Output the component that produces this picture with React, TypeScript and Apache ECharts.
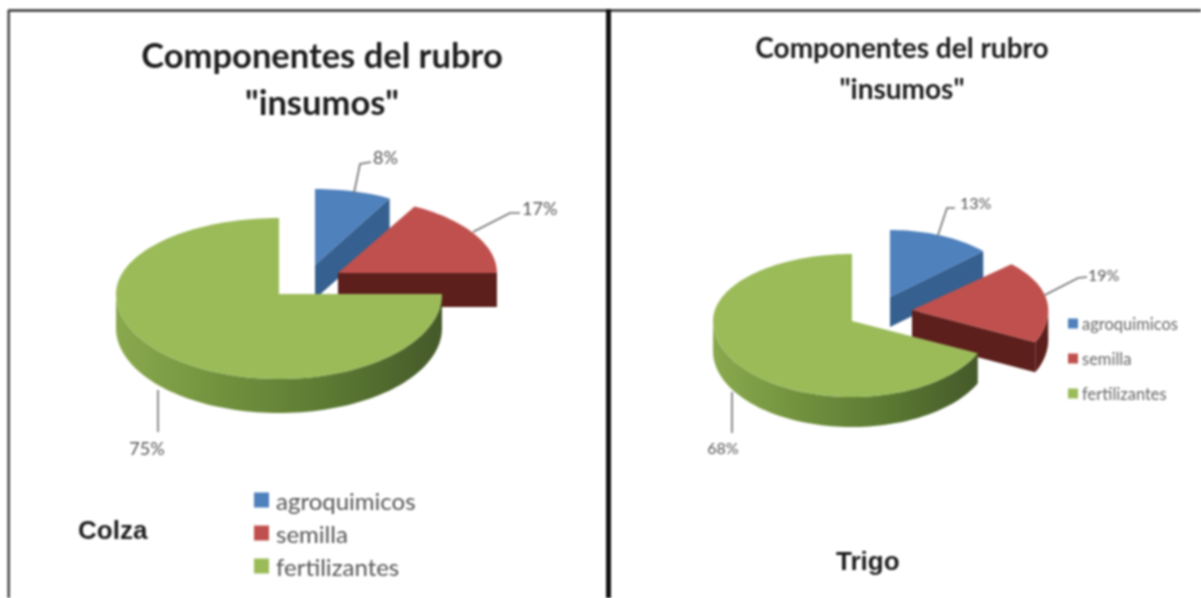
import React, { useEffect, useRef } from "react";
import * as echarts from "echarts";

const categories = ["agroquimicos", "semilla", "fertilizantes"];
const colzaValues = [8, 17, 75];
const trigoValues = [13, 19, 68];
const titleText = 'Componentes del rubro\n"insumos"';
const cropNames = ["Colza", "Trigo"];

const topColors = ["#4f81bd", "#c0504d", "#9bbb59"];
const sideColors = ["#35608f", "#5c1f1c", "#6f8f3e"];

type Panel = {
  cx: number; cy: number; rx: number; ryTop: number; ryBot: number; depth: number;
  offsets: number[][]; rxScale: number[]; leaders: number[][][]; labelPos: number[][];
  labelAlign: string[]; fontSize: number;
};

const colzaPanel: Panel = {
  cx: 279, cy: 294, rx: 163, ryTop: 76, ryBot: 85, depth: 34,
  offsets: [[36, -29], [59, -21], [0, 0]],
  rxScale: [0.95, 0.975, 1],
  leaders: [
    [[354, 193], [360, 164], [371, 162]],
    [[473, 232], [510, 213], [520, 213]],
    [[158, 390], [158, 432]],
  ],
  labelPos: [[373, 157], [522, 208], [147, 448]],
  labelAlign: ["left", "left", "center"],
  fontSize: 18,
};

const trigoPanel: Panel = {
  cx: 852, cy: 321, rx: 139, ryTop: 67, ryBot: 76, depth: 30,
  offsets: [[38, -24], [60, -11], [0, 0]],
  rxScale: [0.92, 0.98, 1],
  leaders: [
    [[938, 235], [947, 208], [955, 208]],
    [[1045, 295], [1078, 278], [1087, 277]],
    [[732, 392], [732, 433]],
  ],
  labelPos: [[960, 202], [1088, 274], [723, 447]],
  labelAlign: ["left", "left", "center"],
  fontSize: 16,
};

const rad = (a: number) => (a * Math.PI) / 180;

function rimPoint(p: Panel, idx: number, angle: number, dy = 0): number[] {
  const [ox, oy] = p.offsets[idx];
  const c = Math.cos(rad(angle));
  const ry = c > 0 ? p.ryTop : p.ryBot;
  return [p.cx + ox + p.rx * p.rxScale[idx] * Math.sin(rad(angle)), p.cy + oy - ry * c + dy];
}

function arc(p: Panel, idx: number, a0: number, a1: number, dy = 0): number[][] {
  const pts: number[][] = [];
  const steps = Math.max(2, Math.ceil((a1 - a0) / 2));
  for (let i = 0; i <= steps; i++) pts.push(rimPoint(p, idx, a0 + ((a1 - a0) * i) / steps, dy));
  return pts;
}

function sliceSeries(panel: Panel, values: number[], idx: number) {
  const before = values.slice(0, idx).reduce((a, b) => a + b, 0);
  const total = values.reduce((a, b) => a + b, 0);
  return {
    type: "custom",
    name: categories[idx],
    coordinateSystem: "none",
    silent: true,
    itemStyle: { color: topColors[idx] },
    data: [[values[idx]]],
    renderItem: (_: any, api: any) => {
      const v = api.value(0);
      const a0 = (before / total) * 360;
      const a1 = ((before + v) / total) * 360;
      const [ox, oy] = panel.offsets[idx];
      const apex = [panel.cx + ox, panel.cy + oy];
      const children: any[] = [];
      if (a1 < 180) {
        const end = rimPoint(panel, idx, a1);
        children.push({
          type: "polygon",
          shape: { points: [apex, end, [end[0], end[1] + panel.depth], [apex[0], apex[1] + panel.depth]] },
          style: { fill: sideColors[idx] },
        });
      }
      const w0 = Math.max(a0, 90);
      const w1 = Math.min(a1, 270);
      if (w1 > w0) {
        const top = arc(panel, idx, w0, w1);
        const bottom = arc(panel, idx, w0, w1, panel.depth).reverse();
        const fill =
          idx === 2
            ? new echarts.graphic.LinearGradient(1, 0, 0, 0, [
                { offset: 0, color: "#45592a" },
                { offset: 0.35, color: "#5c7a33" },
                { offset: 0.7, color: "#73933f" },
                { offset: 1, color: "#8aa94e" },
              ])
            : sideColors[idx];
        children.push({ type: "polygon", shape: { points: [...top, ...bottom] }, style: { fill } });
      }
      children.push({
        type: "polygon",
        shape: { points: [apex, ...arc(panel, idx, a0, a1)] },
        style: { fill: topColors[idx] },
      });
      children.push({
        type: "polyline",
        shape: { points: panel.leaders[idx] },
        style: { fill: "none", stroke: "#6f6f6f", lineWidth: 1.6 },
      });
      const [lx, ly] = panel.labelPos[idx];
      children.push({
        type: "text",
        x: lx,
        y: ly,
        style: {
          text: `${v}%`,
          fontFamily: "Lato",
          fontSize: panel.fontSize,
          fill: "#555555",
          align: panel.labelAlign[idx],
          verticalAlign: "middle",
        },
      });
      return { type: "group", children };
    },
  };
}

const legendBase = {
  orient: "vertical",
  icon: "rect",
  selectedMode: false,
  data: categories,
  padding: 0,
};

export default function App() {
  const ref = useRef<HTMLDivElement>(null);
  useEffect(() => {
    document.body.style.margin = "0";
    document.body.style.overflow = "hidden";
    const chart = echarts.init(ref.current!, undefined, { renderer: "svg" });
    chart.setOption({
      animation: false,
      backgroundColor: "#ffffff",
      title: [
        {
          text: titleText, left: 317, top: 26, textAlign: "center",
          textStyle: { fontFamily: "Lato", fontWeight: "bold", fontSize: 34.5, lineHeight: 47, color: "#1c1c1c" },
        },
        {
          text: titleText, left: 897, top: 21, textAlign: "center",
          textStyle: { fontFamily: "Lato", fontWeight: "bold", fontSize: 28, lineHeight: 41, color: "#1c1c1c" },
        },
        {
          text: cropNames[0], left: 78, top: 517, padding: 0,
          textStyle: { fontFamily: "Liberation Sans", fontWeight: "bold", fontSize: 26, color: "#1c1c1c" },
        },
        {
          text: cropNames[1], left: 836, top: 548, padding: 0,
          textStyle: { fontFamily: "Liberation Sans", fontWeight: "bold", fontSize: 26, color: "#1c1c1c" },
        },
      ],
      legend: [
        {
          ...legendBase, left: 254, top: 488, itemWidth: 15, itemHeight: 15, itemGap: 9,
          textStyle: { fontFamily: "Lato", fontSize: 24, color: "#555555", padding: [0, 0, 0, 2] },
        },
        {
          ...legendBase, left: 1068, top: 315, itemWidth: 10, itemHeight: 10, itemGap: 18,
          textStyle: { fontFamily: "Lato", fontSize: 16.5, color: "#666666", padding: [0, 0, 0, -1] },
        },
      ],
      graphic: [
        { type: "line", shape: { x1: 8, y1: 10.5, x2: 1201, y2: 10.5 }, style: { stroke: "#333333", lineWidth: 2.5 } },
        { type: "line", shape: { x1: 8.7, y1: 10, x2: 8.7, y2: 598 }, style: { stroke: "#444444", lineWidth: 2.5 } },
        { type: "line", shape: { x1: 608.5, y1: 9, x2: 608.5, y2: 598 }, style: { stroke: "#111111", lineWidth: 5 } },
      ],
      series: [
        ...colzaValues.map((_, i) => sliceSeries(colzaPanel, colzaValues, i)),
        ...trigoValues.map((_, i) => sliceSeries(trigoPanel, trigoValues, i)),
      ],
    });
    return () => chart.dispose();
  }, []);
  return (
    <div
      ref={ref}
      style={{ position: "absolute", left: 0, top: 0, width: 1201, height: 598, filter: "blur(1px)" }}
    />
  );
}
